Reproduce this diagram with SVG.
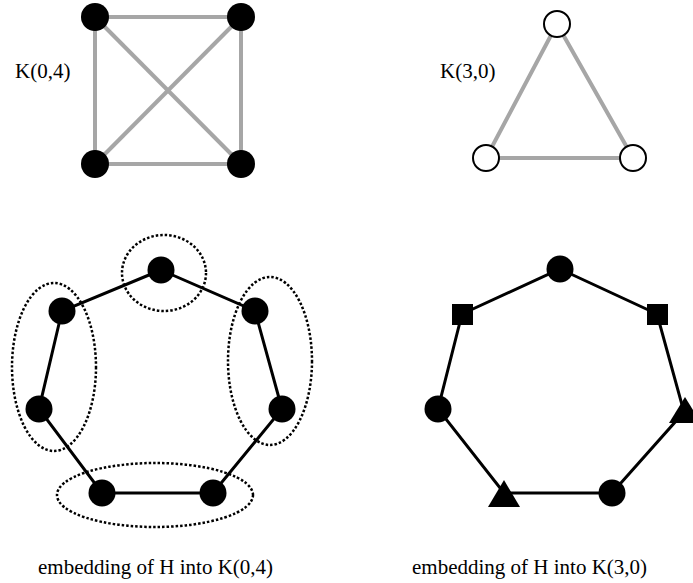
<svg xmlns="http://www.w3.org/2000/svg" width="693" height="583" viewBox="0 0 693 583">
<style>
.gray{stroke:#a6a6a6;stroke-width:4;fill:none}
.blk{stroke:#000;stroke-width:3;fill:none}
.dot{stroke:#000;stroke-width:2.5;stroke-dasharray:2.5 2;fill:none}
.fn{fill:#000}
.on{fill:#fff;stroke:#000;stroke-width:2}
.lbl{font-family:'Liberation Serif','DejaVu Serif',serif;font-size:21px;fill:#000}
</style>
<rect width="693" height="583" fill="#fff"/>
<g id="connectors">
<line class="gray" x1="95" y1="17" x2="241" y2="17"/>
<line class="gray" x1="95" y1="164" x2="241" y2="164"/>
<line class="gray" x1="95" y1="17" x2="95" y2="164"/>
<line class="gray" x1="241" y1="17" x2="241" y2="164"/>
<line class="gray" x1="95" y1="17" x2="241" y2="164"/>
<line class="gray" x1="241" y1="17" x2="95" y2="164"/>
<polygon class="gray" points="557,24 486,158 633,158"/>
<polygon class="blk" points="161,270 255,311 282,409 213,493 102,493 39,409 62,311"/>
<polygon class="blk" points="560,269 657,314 684,412 612,493 504,493 438,409 462,314"/>
</g>
<g id="groups">
<ellipse class="dot" cx="164" cy="273" rx="42" ry="38"/>
<ellipse class="dot" cx="54" cy="367" rx="42" ry="84"/>
<ellipse class="dot" cx="270" cy="361" rx="42" ry="84"/>
<ellipse class="dot" cx="155" cy="495" rx="98" ry="32"/>
</g>
<g id="k04">
<circle class="fn" cx="95" cy="17" r="14"/>
<circle class="fn" cx="241" cy="17" r="14"/>
<circle class="fn" cx="95" cy="164" r="14"/>
<circle class="fn" cx="241" cy="164" r="14"/>
<text class="lbl" x="15" y="78" font-family="Liberation Serif, serif">K(0,4)</text>
</g>
<g id="k30">
<circle class="on" cx="557" cy="24" r="13"/>
<circle class="on" cx="486" cy="158" r="13"/>
<circle class="on" cx="633" cy="158" r="13"/>
<text class="lbl" x="440" y="78" font-family="Liberation Serif, serif">K(3,0)</text>
</g>
<g id="h-left">
<circle class="fn" cx="161" cy="270" r="13.5"/>
<circle class="fn" cx="255" cy="311" r="13.5"/>
<circle class="fn" cx="282" cy="409" r="13.5"/>
<circle class="fn" cx="213" cy="493" r="13.5"/>
<circle class="fn" cx="102" cy="493" r="13.5"/>
<circle class="fn" cx="39" cy="409" r="13.5"/>
<circle class="fn" cx="62" cy="311" r="13.5"/>
<text class="lbl" x="38" y="574" font-family="Liberation Serif, serif">embedding of H into K(0,4)</text>
</g>
<g id="h-right">
<circle class="fn" cx="560" cy="269" r="13.5"/>
<rect class="fn" x="452" y="304" width="21" height="21"/>
<rect class="fn" x="647" y="304" width="21" height="21"/>
<polygon class="fn" points="685,397 701,423 669,423"/>
<circle class="fn" cx="612" cy="493" r="13.5"/>
<polygon class="fn" points="504,480 520,507 488,507"/>
<circle class="fn" cx="438" cy="409" r="13.5"/>
<text class="lbl" x="412" y="574" font-family="Liberation Serif, serif">embedding of H into K(3,0)</text>
</g>
</svg>
